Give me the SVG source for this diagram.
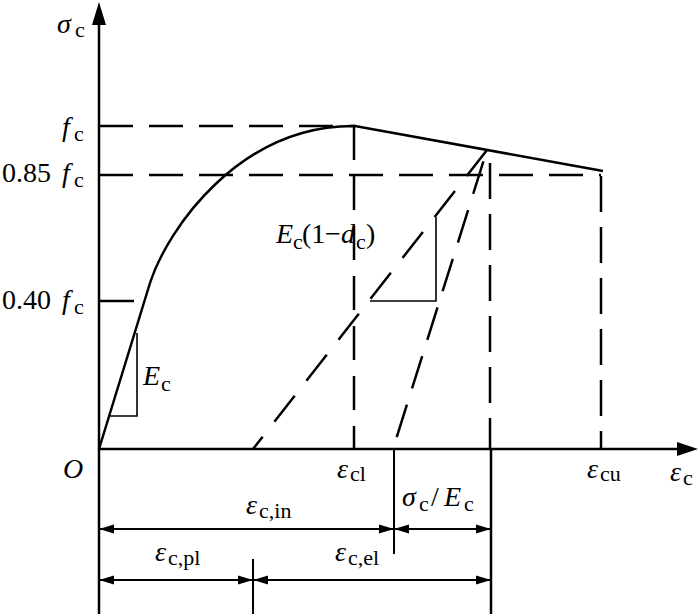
<svg xmlns="http://www.w3.org/2000/svg" width="700" height="614" viewBox="0 0 700 614">
<style>
.ln{stroke:#000;stroke-width:2.5;fill:none}
.dsh{stroke:#000;stroke-width:2.5;fill:none;stroke-dasharray:34 16}
.thin{stroke:#000;stroke-width:1.6;fill:none}
.dim{stroke:#000;stroke-width:2;fill:none;marker-start:url(#ah);marker-end:url(#ah)}
text{font-family:"Liberation Serif","Times New Roman",serif;font-size:28px;fill:#000}
.i{font-style:italic}
.s{font-size:22px}
</style>
<defs>
<marker id="ah" viewBox="0 0 15 10" refX="15" refY="5" markerWidth="15" markerHeight="10" markerUnits="userSpaceOnUse" orient="auto-start-reverse">
<path d="M0,0.5 L15,5 L0,9.5 z" fill="#000"/>
</marker>
</defs>
<rect width="700" height="614" fill="#fff"/>
<g id="axes">
<line class="ln" x1="99" y1="20" x2="99" y2="614"/>
<polygon points="99,2 92,25 106,25" fill="#000"/>
<line class="ln" x1="99" y1="449" x2="680" y2="449"/>
<polygon points="698,449 677,442 677,456" fill="#000"/>
<line class="ln" x1="99" y1="301" x2="134" y2="301"/>
</g>
<g id="guides">
<line class="dsh" x1="99" y1="126" x2="355" y2="126"/>
<line class="dsh" x1="99" y1="175" x2="601" y2="175"/>
<line class="dsh" x1="354" y1="126" x2="354" y2="449"/>
<line class="dsh" x1="601" y1="176" x2="601" y2="449" style="stroke-dasharray:36 15"/>
<line class="dsh" x1="490" y1="163" x2="490" y2="449" style="stroke-dasharray:36 15"/>
<line class="dsh" x1="487" y1="150" x2="253" y2="449" style="stroke-dasharray:33 19"/>
<line class="dsh" x1="487" y1="150" x2="393" y2="449" style="stroke-dasharray:34 17;stroke-dashoffset:-12"/>
</g>
<g id="curve">
<path class="ln" d="M99,449 L150,283 C168,228 240,125 355,126 L603,171"/>
</g>
<g id="slopes">
<polyline class="thin" points="108,416 137,416 137,333"/>
<polyline class="thin" points="370,301 436,301 436,217"/>
</g>
<g id="dimensions">
<line class="ln" x1="394" y1="449" x2="394" y2="554" style="stroke-width:2"/>
<line class="ln" x1="491" y1="449" x2="491" y2="614"/>
<line class="ln" x1="253" y1="559" x2="253" y2="614" style="stroke-width:2"/>
<line class="dim" x1="99" y1="529" x2="394" y2="529"/>
<line class="dim" x1="394" y1="529" x2="491" y2="529"/>
<line class="dim" x1="99" y1="580" x2="253" y2="580"/>
<line class="dim" x1="253" y1="580" x2="491" y2="580"/>
</g>
<g id="labels">
<text x="57" y="33"><tspan class="i">σ</tspan><tspan class="s" x="75" dy="4">c</tspan></text>
<text x="62" y="136"><tspan class="i">f</tspan><tspan class="s" x="74" dy="5">c</tspan></text>
<text x="2" y="182">0.85<tspan class="i" x="62">f</tspan><tspan class="s" x="74" dy="5">c</tspan></text>
<text x="2" y="309">0.40<tspan class="i" x="62">f</tspan><tspan class="s" x="74" dy="5">c</tspan></text>
<text class="i" x="63" y="478">O</text>
<text x="143" y="385"><tspan class="i">E</tspan><tspan class="s" x="161" dy="6">c</tspan></text>
<text x="276" y="243"><tspan class="i">E</tspan><tspan class="s" x="293" dy="6">c</tspan><tspan x="302" dy="-6">(1</tspan><tspan x="325">−</tspan><tspan class="i" x="341">d</tspan><tspan class="s" x="356" dy="6">c</tspan><tspan x="366" dy="-6">)</tspan></text>
<text x="337" y="478"><tspan class="i">ε</tspan><tspan class="s" x="350" dy="3">cl</tspan></text>
<text x="587" y="478"><tspan class="i">ε</tspan><tspan class="s" x="600" dy="3">cu</tspan></text>
<text x="670" y="481"><tspan class="i">ε</tspan><tspan class="s" x="683" dy="4">c</tspan></text>
<text x="246" y="514"><tspan class="i">ε</tspan><tspan class="s" x="259" dy="4">c,in</tspan></text>
<text x="402" y="506"><tspan class="i">σ</tspan><tspan class="s" x="419" dy="5">c</tspan><tspan x="431" dy="-5">/</tspan><tspan class="i" x="444">E</tspan><tspan class="s" x="464" dy="5">c</tspan></text>
<text x="155" y="561"><tspan class="i">ε</tspan><tspan class="s" x="168" dy="4">c,pl</tspan></text>
<text x="335" y="561"><tspan class="i">ε</tspan><tspan class="s" x="348" dy="4">c,el</tspan></text>
</g>
</svg>
